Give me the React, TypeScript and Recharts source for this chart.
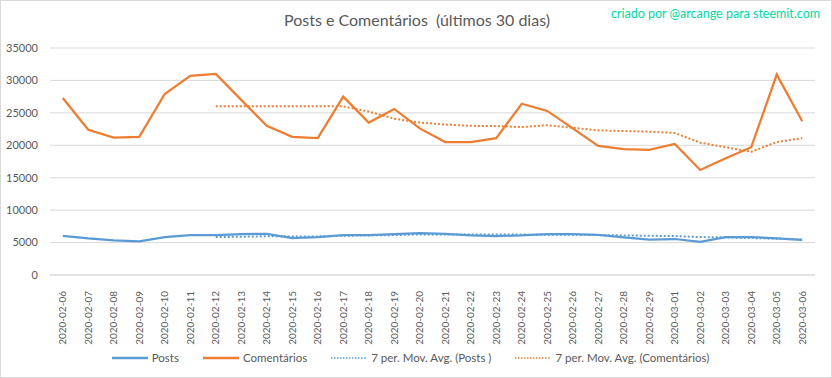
import { LineChart, Line, XAxis, YAxis, CartesianGrid, Legend } from 'recharts';

const dates = [
    '2020-02-06', '2020-02-07', '2020-02-08', '2020-02-09', '2020-02-10', '2020-02-11', '2020-02-12',
    '2020-02-13', '2020-02-14', '2020-02-15', '2020-02-16', '2020-02-17', '2020-02-18', '2020-02-19',
    '2020-02-20', '2020-02-21', '2020-02-22', '2020-02-23', '2020-02-24', '2020-02-25', '2020-02-26',
    '2020-02-27', '2020-02-28', '2020-02-29', '2020-03-01', '2020-03-02', '2020-03-03', '2020-03-04',
    '2020-03-05', '2020-03-06',
];

const posts = [
    6050, 5650, 5350, 5200, 5850, 6150, 6150, 6300, 6350, 5700, 5850, 6150, 6150, 6300, 6450,
    6350, 6100, 6000, 6100, 6300, 6300, 6200, 5800, 5450, 5550, 5100, 5850, 5850, 5650, 5400,
];

const comentarios = [
    27300, 22400, 21200, 21300, 27900, 30700, 31000, 27000, 23000, 21300, 21100, 27500, 23500, 25600, 22600,
    20500, 20500, 21100, 26400, 25300, 22600, 19900, 19400, 19300, 20200, 16200, 18000, 19700, 30900, 23700,
];

// moving averages start on the 7th day
const postsAvg = [
    null, null, null, null, null, null, 5850, 5900, 5980, 5950, 5950, 6050, 6100, 6150, 6250,
    6250, 6250, 6250, 6230, 6200, 6200, 6150, 6100, 6050, 6000, 5850, 5800, 5700, 5600, 5450,
];

const comentariosAvg = [
    null, null, null, null, null, null, 26000, 26000, 26000, 26000, 26000, 26000, 25200, 24100, 23500,
    23200, 23000, 22950, 22800, 23100, 22700, 22300, 22200, 22100, 21900, 20400, 19700, 19000, 20500, 21100,
];

const yTicks = [0, 5000, 10000, 15000, 20000, 25000, 30000, 35000];

const BLUE = '#5b9bd5';
const ORANGE = '#ed7d31';
const FONT = 'Lato, "Open Sans", sans-serif';

const data = dates.map((d, i) => ({
    date: d,
    posts: posts[i],
    comentarios: comentarios[i],
    postsAvg: postsAvg[i],
    comentariosAvg: comentariosAvg[i],
}));

const DateTick = ({ x, y, payload }: any) => (
    <text
        x={x}
        y={y + 8}
        transform={`rotate(-90, ${x}, ${y + 8})`}
        textAnchor="end"
        dy="0.35em"
        fontSize={10}
        fontFamily={FONT}
        fill="#595959"
    >
        {payload.value}
    </text>
);

const legendItems = [
    { label: 'Posts', color: BLUE, dotted: false },
    { label: 'Comentários', color: ORANGE, dotted: false },
    { label: '7 per. Mov. Avg. (Posts )', color: BLUE, dotted: true },
    { label: '7 per. Mov. Avg. (Comentários)', color: ORANGE, dotted: true },
];

const ChartLegend = () => (
    <div style={{ display: 'flex', justifyContent: 'center', alignItems: 'center', gap: 24, paddingLeft: 6 }}>
        {legendItems.map((item) => (
            <div key={item.label} style={{ display: 'flex', alignItems: 'center', gap: 4 }}>
                <svg width={36} height={6}>
                    <line
                        x1={0} y1={3} x2={36} y2={3}
                        stroke={item.color}
                        strokeWidth={item.dotted ? 1.5 : 2.5}
                        strokeDasharray={item.dotted ? '1.5 1.5' : undefined}
                    />
                </svg>
                <span style={{ fontSize: 11.5, color: '#595959', fontFamily: FONT }}>{item.label}</span>
            </div>
        ))}
    </div>
);

export default function App() {
    return (
        <div style={{
            position: 'absolute', left: 0, top: 0, width: 832, height: 378,
            background: '#fff', border: '1px solid #d9d9d9', boxSizing: 'border-box',
        }}>
            <div style={{
                position: 'absolute', top: 9, left: 0, width: 832, textAlign: 'center',
                fontSize: 16, color: '#595959', fontFamily: FONT,
            }}>
                Posts e Comentários&nbsp; (últimos 30 dias)
            </div>
            <div style={{
                position: 'absolute', top: 5, right: 11, fontSize: 12.5,
                color: '#00d9a3', fontFamily: FONT,
            }}>
                criado por @arcange para steemit.com
            </div>
            <div style={{ position: 'absolute', left: -1, top: -1 }}>
                <LineChart width={832} height={378} data={data} margin={{ top: 48, right: 17, bottom: 1, left: 0 }}>
                    <CartesianGrid vertical={false} stroke="#d9d9d9" />
                    <XAxis
                        dataKey="date"
                        interval={0}
                        height={76}
                        padding={{ left: 12.75, right: 12.75 }}
                        stroke="#d9d9d9"
                        tickLine={false}
                        tick={<DateTick />}
                    />
                    <YAxis
                        width={50}
                        domain={[0, 35000]}
                        ticks={yTicks}
                        axisLine={false}
                        tickLine={false}
                        tickMargin={6}
                        tick={{ fontSize: 11, fill: '#595959', fontFamily: FONT }}
                    />
                    <Legend verticalAlign="bottom" height={26} content={<ChartLegend />} />
                    <Line dataKey="posts" stroke={BLUE} strokeWidth={2.25} dot={false} isAnimationActive={false} />
                    <Line dataKey="comentarios" stroke={ORANGE} strokeWidth={2.25} dot={false} isAnimationActive={false} />
                    <Line dataKey="postsAvg" stroke={BLUE} strokeWidth={2} strokeDasharray="2 2" dot={false} isAnimationActive={false} />
                    <Line dataKey="comentariosAvg" stroke={ORANGE} strokeWidth={2} strokeDasharray="2 2" dot={false} isAnimationActive={false} />
                </LineChart>
            </div>
        </div>
    );
}
